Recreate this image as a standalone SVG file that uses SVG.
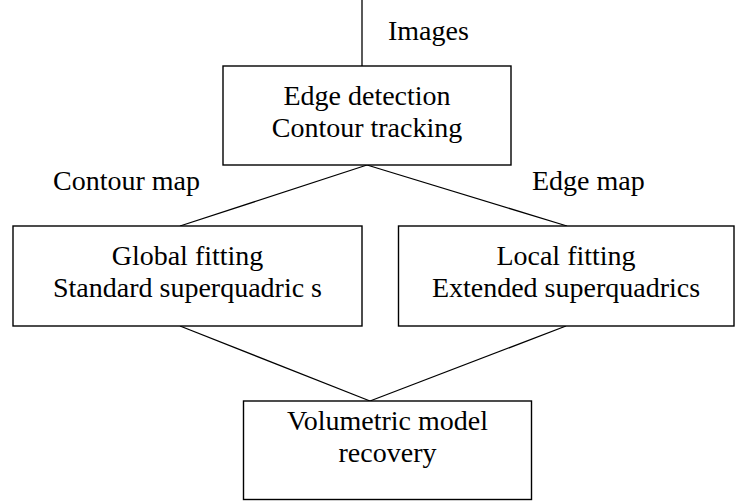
<svg xmlns="http://www.w3.org/2000/svg" width="735" height="501" viewBox="0 0 735 501">
<style>
.box{fill:#fff;stroke:#000;stroke-width:1.4}
.ln{fill:none;stroke:#000;stroke-width:1.3}
text{font-family:'Liberation Serif',serif;font-size:28px;fill:#000;font-weight:normal}
.c{text-anchor:middle}
</style>
<rect width="735" height="501" fill="#fff"/>
<g id="connectors">
<line class="ln" x1="362" y1="0" x2="362" y2="66"/>
<line class="ln" x1="367" y1="165" x2="180" y2="226"/>
<line class="ln" x1="367" y1="165" x2="567" y2="226"/>
<line class="ln" x1="180" y1="326" x2="370" y2="401"/>
<line class="ln" x1="566" y1="326" x2="370" y2="401"/>
</g>
<g id="labels">
<text x="388" y="40" font-family="Liberation Serif">Images</text>
<text x="53" y="190" font-family="Liberation Serif">Contour map</text>
<text x="532" y="190" font-family="Liberation Serif">Edge map</text>
</g>
<g id="n1">
<rect class="box" x="223" y="66" width="288" height="99"/>
<text class="c" x="367" y="105">Edge detection</text>
<text class="c" x="367" y="137">Contour tracking</text>
</g>
<g id="n2">
<rect class="box" x="13" y="226" width="349" height="100"/>
<text class="c" x="187.5" y="265">Global fitting</text>
<text class="c" x="187.5" y="297">Standard superquadric s</text>
</g>
<g id="n3">
<rect class="box" x="398.5" y="226" width="335.5" height="100"/>
<text class="c" x="566" y="265">Local fitting</text>
<text class="c" x="566" y="297">Extended superquadrics</text>
</g>
<g id="n4">
<rect class="box" x="243.5" y="401" width="288" height="98.5"/>
<text class="c" x="387.5" y="430">Volumetric model</text>
<text class="c" x="387.5" y="462">recovery</text>
</g>
</svg>
